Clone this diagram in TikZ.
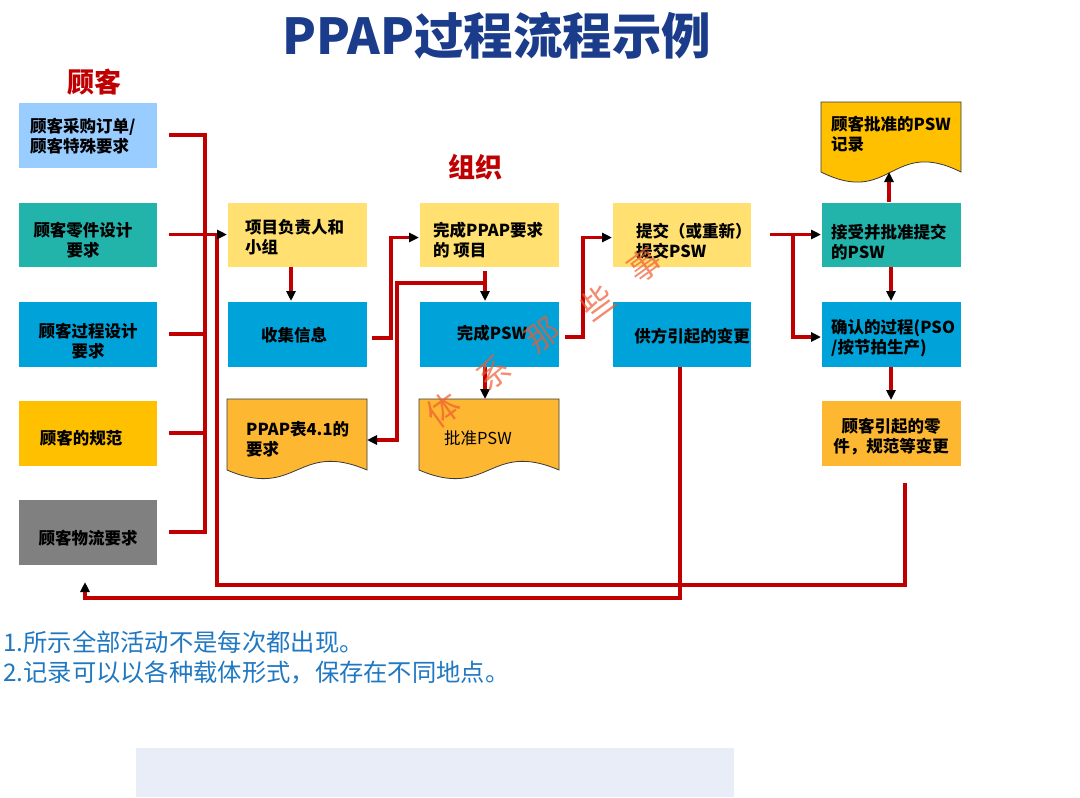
\documentclass[tikz,border=0pt]{standalone}
\usepackage{fontspec}
\setmainfont{Noto Sans CJK SC}
\usetikzlibrary{arrows.meta}
\definecolor{lred}{HTML}{C00000}
\definecolor{ctitle}{HTML}{1B3C8B}
\definecolor{cnote}{HTML}{1F78C1}
\definecolor{cLB}{HTML}{99CCFF}
\definecolor{cTeal}{HTML}{22B4AB}
\definecolor{cBlue}{HTML}{00A3D9}
\definecolor{cAmber}{HTML}{FFC000}
\definecolor{cGray}{HTML}{808080}
\definecolor{cYel}{HTML}{FFE070}
\definecolor{cOr}{HTML}{FDB731}
\definecolor{cPale}{HTML}{E8EDF7}
\definecolor{docline}{HTML}{3A3A3A}
\definecolor{wmc}{HTML}{F05A32}
\tikzset{
  box/.style={rectangle, inner sep=0pt, outer sep=0pt, anchor=north west, draw=white, line width=0.6pt},
  txt/.style={inner sep=0pt, font=\fontsize{16.5}{20}\selectfont\bfseries, text=black},
  conn/.style={draw=lred, line width=3.5pt, -{Triangle[length=10pt,width=9pt,color=black]}},
  wire/.style={draw=lred, line width=3.5pt},
  docsh/.style={draw=docline, line width=0.8pt},
  wm/.style={font=\fontsize{33}{33}\selectfont, text=wmc, text opacity=0.7, inner sep=0pt, rotate=36},
  head/.style={font=\fontsize{27}{27}\selectfont\bfseries, text=lred, inner sep=0pt}
}
\begin{document}
\begin{tikzpicture}[x=1pt,y=-1pt]
\useasboundingbox (0,0) rectangle (1080,798);
\fill[white] (0,0) rectangle (1080,798);

% title and headings
\node[font=\fontsize{49.5}{49.5}\selectfont\bfseries, text=ctitle, inner sep=0pt] (title) at (497,36) {PPAP过程流程示例};
\node[head] (hcust) at (94,82) {顾客};
\node[head] (horg) at (475,167) {组织};

% customer column
\node[box, fill=cLB,    minimum width=139pt, minimum height=66pt] (c1) at (18,102) {};
\node[box, fill=cTeal,  minimum width=139pt, minimum height=65pt] (c2) at (18,202) {};
\node[box, fill=cBlue,  minimum width=139pt, minimum height=66pt] (c3) at (18,301) {};
\node[box, fill=cAmber, minimum width=139pt, minimum height=66pt] (c4) at (18,400) {};
\node[box, fill=cGray,  minimum width=139pt, minimum height=66pt] (c5) at (18,499) {};
\node[txt, align=left, anchor=west] (c1t) at (30,136) {顾客采购订单/\\顾客特殊要求};
\node[txt, align=center] (c2t) at (83,240) {顾客零件设计\\要求};
\node[txt, align=center] (c3t) at (88,341) {顾客过程设计\\要求};
\node[txt] (c4t) at (81,438) {顾客的规范};
\node[txt] (c5t) at (88,538) {顾客物流要求};

% organisation column 1
\node[box, fill=cYel,  minimum width=140pt, minimum height=65pt] (lead) at (227,202) {};
\node[box, fill=cBlue, minimum width=140pt, minimum height=66pt] (gather) at (227,301) {};
\node[box, draw=none, minimum width=140pt, minimum height=71pt] (form) at (227,399) {};
\draw[docsh, fill=cOr] (form.north west) -- (form.north east) -- (367,470)
  .. controls (297,440) and (297,500) .. (227,470) -- cycle;
\node[txt, align=left, anchor=west] (leadt) at (245,237) {项目负责人和\\小组};
\node[txt] (gathert) at (294,335) {收集信息};
\node[txt, align=left, anchor=west] (formt) at (246,439) {PPAP表4.1的\\要求};

% organisation column 2
\node[box, fill=cYel,  minimum width=140pt, minimum height=65pt] (items) at (419,202) {};
\node[box, fill=cBlue, minimum width=140pt, minimum height=66pt] (psw) at (419,301) {};
\node[box, draw=none, minimum width=140pt, minimum height=71pt] (approve) at (419,399) {};
\draw[docsh, fill=cOr] (approve.north west) -- (approve.north east) -- (559,470)
  .. controls (489,440) and (489,500) .. (419,470) -- cycle;
\node[txt, align=left, anchor=west] (itemst) at (433,240) {完成PPAP要求\\的 项目};
\node[txt] (pswt) at (492,333) {完成PSW};
\node[txt, font=\fontsize{16.5}{20}\selectfont] (approvet) at (478,438) {批准PSW};

% organisation column 3
\node[box, fill=cYel,  minimum width=139pt, minimum height=65pt] (submit) at (612,202) {};
\node[box, fill=cBlue, minimum width=139pt, minimum height=66pt] (supchg) at (612,301) {};
\node[txt, align=left, anchor=west] (submitt) at (636,241) {提交（或重新）\\提交PSW};
\node[txt] (supchgt) at (692,336) {供方引起的变更};

% organisation column 4
\node[box, draw=none, minimum width=140pt, minimum height=70pt] (record) at (821,102) {};
\draw[docsh, fill=cAmber] (record.north west) -- (record.north east) -- (961,172)
  .. controls (891,137) and (891,207) .. (821,172) -- cycle;
\node[box, fill=cTeal,  minimum width=140pt, minimum height=65pt] (accept) at (821,202) {};
\node[box, fill=cBlue,  minimum width=140pt, minimum height=66pt] (confirm) at (821,301) {};
\node[box, fill=cOr,    minimum width=140pt, minimum height=66pt] (custchg) at (821,400) {};
\node[txt, align=left, anchor=west] (recordt) at (831,134) {顾客批准的PSW\\记录};
\node[txt, align=left, anchor=west] (acceptt) at (831,242) {接受并批准提交\\的PSW};
\node[txt, align=left, anchor=west] (confirmt) at (831,338) {确认的过程(PSO\\/按节拍生产)};
\node[txt, align=center] (custchgt) at (891,437) {顾客引起的零\\件，规范等变更};

% notes and band
\node[anchor=west, inner sep=0pt, align=left, font=\fontsize{24.3}{30}\selectfont, text=cnote] (notes) at (3,657)
  {1.所示全部活动不是每次都出现。\\2.记录可以以各种载体形式，保存在不同地点。};
\node[box, fill=cPale, draw=none, minimum width=598pt, minimum height=49pt] (band) at (136,748) {};

% connectors: customer inputs
\draw[wire] ([xshift=12pt]c1.east) -| ([xshift=48pt]c5.east) -- ([xshift=12pt]c5.east);
\draw[wire] ([xshift=12pt]c3.east) -- ++(36,0);
\draw[wire] ([xshift=12pt]c4.east) -- ++(36,0);
\coordinate (loopc) at (217,585);
\draw[wire] ([xshift=14pt,yshift=-17pt]custchg.south) |- (loopc) -- ([xshift=-10pt]lead.west);
\draw[conn] ([xshift=12pt]c2.east) -- (lead.west);

% organisation flow
\draw[conn] ([xshift=-6pt]lead.south) -- ([xshift=-6pt]gather.north);
\draw[conn] ([xshift=5pt,yshift=-4pt]gather.east) -- ++(19,0) |- ([yshift=-3pt]items.west);
\draw[conn] ([xshift=-4pt,yshift=-4pt]items.south) -- ([xshift=-4pt]psw.north);
\draw[conn] ([xshift=-4pt,yshift=-16pt]items.south) -| ([xshift=30pt,yshift=-5.5pt]form.east) -- ([yshift=-5.5pt]form.east);
\draw[conn] ([xshift=-4pt]psw.south) -- ([xshift=-4pt]approve.north);
\draw[conn] ([xshift=6pt,yshift=-3pt]psw.east) -- ++(18,0) |- ([yshift=-3pt]submit.west);
\draw[conn] ([xshift=19pt]submit.east) -- (accept.west);
\draw[conn] ([xshift=42pt]submit.east) |- ([yshift=-3pt]confirm.west);
\draw[conn] ([xshift=-2pt]accept.north) -- ([xshift=-2pt]record.south);
\draw[conn] (accept.south) -- (confirm.north);
\draw[conn] (confirm.south) -- (custchg.north);
\draw[conn] ([xshift=-1.5pt]supchg.south) -- ([xshift=-1.5pt,yshift=-231pt]supchg.south) -| ([xshift=-2.5pt,yshift=-17pt]c5.south);

% watermark
\node[wm] (w1) at (443,410) {体};
\node[wm] (w2) at (493,373) {系};
\node[wm] (w3) at (543,335) {那};
\node[wm] (w4) at (597,302) {些};
\node[wm] (w5) at (645,265) {事};
\end{tikzpicture}
\end{document}
